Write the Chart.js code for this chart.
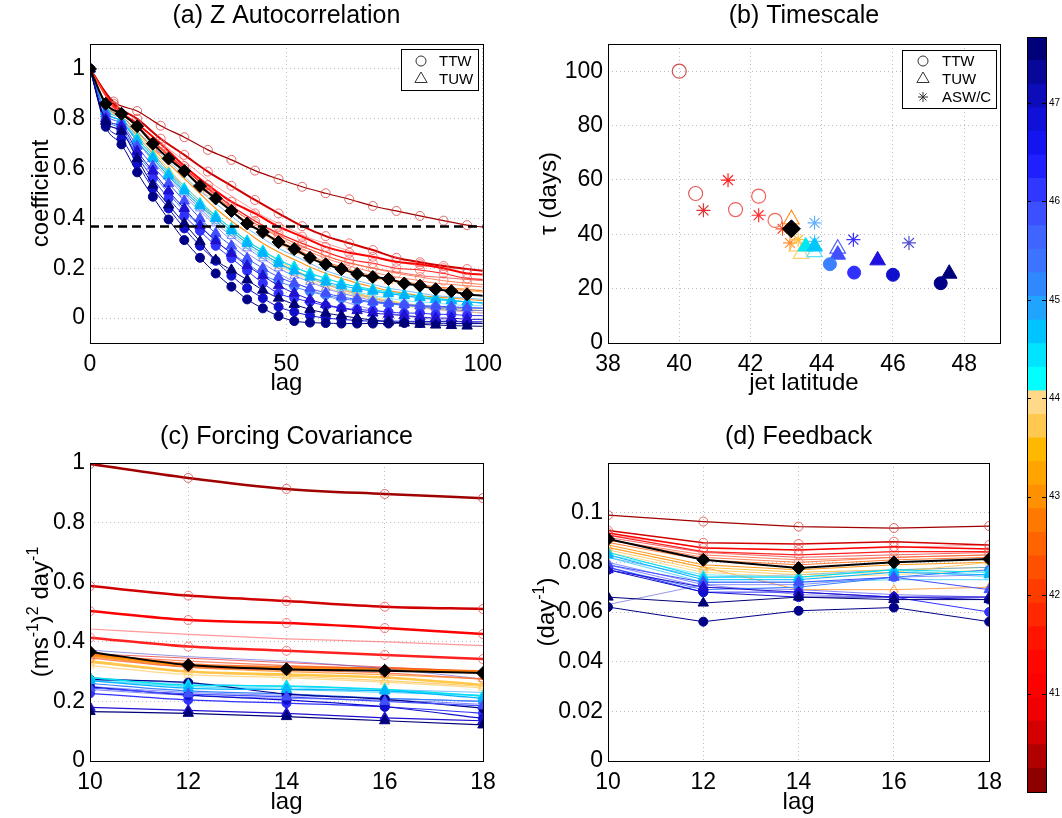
<!DOCTYPE html>
<html>
<head>
<meta charset="utf-8">
<script src="https://cdn.jsdelivr.net/npm/chart.js@4.4.1/dist/chart.umd.min.js"></script>
<style>
  body { margin: 0; background: #fff; width: 1062px; height: 818px; position: relative; overflow: hidden; }
  .panel { position: absolute; }
</style>
</head>
<body>
<div class="panel" style="left:0;top:0"><canvas id="chartA" width="510" height="410"></canvas></div>
<div class="panel" style="left:520px;top:0"><canvas id="chartB" width="490" height="410"></canvas></div>
<div class="panel" style="left:0;top:420px"><canvas id="chartC" width="510" height="398"></canvas></div>
<div class="panel" style="left:520px;top:420px"><canvas id="chartD" width="490" height="398"></canvas></div>
<div class="panel" style="left:1010px;top:0"><canvas id="chartBar" width="52" height="818"></canvas></div>
<script>
// ---- datos ----
const lagA4 = [0, 4, 8, 12, 16, 20, 24, 28, 32, 36, 40, 44, 48, 52, 56, 60, 64, 68, 72, 76, 80, 84, 88, 92, 96, 100];
const lagA6 = [0, 6, 12, 18, 24, 30, 36, 42, 48, 54, 60, 66, 72, 78, 84, 90, 96, 100];
const lagCD = [10, 12, 14, 16, 18];

const seriesNames = ['a1', 'a2', 'a3', 'a4', 'a5', 'a6', 'a7', 'a8', 'a9', 'a10',
  'u1', 'u2', 'u3', 'u4', 'u5', 'T1', 'T2', 'T3', 'T4', 'T5',
  'c1', 'c2', 'c3', 'c4', 'f1', 'f2', 'f3', 'f4', 'f5', 'BD'];

// (a) autocorrelación (T* en lagA6, resto en lagA4)
const acfData = [
  [1, .86, .82, .77, .71, .66, .60, .55, .50, .45, .41, .37, .335, .30, .275, .25, .23, .215, .20, .19, .18, .17, .165, .16, .155, .15],
  [1, .87, .83, .78, .73, .68, .63, .58, .53, .49, .45, .41, .38, .35, .32, .30, .28, .26, .245, .23, .22, .21, .205, .20, .195, .19],
  [1, .86, .82, .77, .71, .655, .60, .545, .49, .44, .40, .36, .325, .29, .265, .24, .22, .20, .185, .17, .16, .15, .14, .135, .13, .125],
  [1, .86, .82, .77, .71, .65, .59, .535, .48, .43, .385, .345, .31, .28, .25, .225, .205, .185, .17, .155, .145, .135, .125, .12, .115, .11],
  [1, .85, .81, .75, .68, .62, .56, .50, .44, .39, .345, .30, .265, .235, .205, .18, .16, .14, .125, .11, .10, .09, .085, .08, .075, .07],
  [1, .85, .80, .74, .67, .60, .53, .47, .41, .36, .31, .27, .23, .195, .165, .14, .12, .10, .085, .07, .06, .05, .045, .04, .035, .03],
  [1, .85, .81, .75, .69, .63, .57, .51, .46, .41, .36, .32, .28, .25, .22, .19, .17, .15, .135, .12, .11, .10, .09, .085, .08, .075],
  [1, .84, .80, .73, .66, .59, .53, .47, .41, .36, .31, .27, .235, .205, .18, .16, .14, .125, .11, .10, .09, .08, .075, .07, .065, .06],
  [1, .84, .80, .73, .66, .59, .52, .46, .40, .35, .30, .26, .22, .19, .16, .135, .115, .095, .08, .065, .055, .045, .035, .03, .025, .02],
  [1, .83, .79, .71, .63, .56, .49, .43, .37, .31, .26, .22, .18, .145, .115, .09, .07, .05, .035, .02, .01, 0, -.005, -.01, -.015, -.02],
  [1, .86, .82, .77, .71, .65, .59, .535, .48, .43, .38, .34, .30, .27, .24, .215, .195, .175, .16, .15, .14, .13, .12, .115, .11, .105],
  [1, .85, .80, .73, .66, .59, .52, .46, .40, .35, .30, .26, .22, .19, .16, .135, .115, .095, .08, .065, .055, .045, .04, .035, .03, .03],
  [1, .84, .80, .72, .65, .58, .51, .45, .39, .34, .29, .25, .21, .18, .15, .125, .105, .09, .075, .06, .05, .04, .035, .03, .025, .02],
  [1, .84, .80, .72, .65, .58, .51, .45, .39, .34, .29, .25, .215, .185, .16, .14, .12, .105, .09, .08, .07, .065, .06, .055, .05, .05],
  [1, .83, .79, .71, .64, .57, .50, .44, .38, .33, .28, .24, .20, .17, .145, .12, .10, .085, .07, .06, .05, .045, .04, .035, .03, .03],
  [1, .869, .831, .772, .726, .675, .635, .592, .558, .527, .501, .477, .45, .43, .41, .391, .373, .365],
  [1, .86, .80, .72, .655, .588, .531, .474, .42, .369, .329, .30, .273, .242, .224, .209, .197, .19],
  [1, .85, .78, .70, .61, .534, .467, .42, .367, .327, .286, .262, .246, .226, .216, .20, .179, .175],
  [1, .85, .77, .68, .60, .52, .45, .39, .34, .30, .265, .235, .22, .20, .193, .179, .159, .155],
  [1, .85, .77, .68, .59, .51, .44, .38, .33, .29, .25, .22, .20, .18, .165, .15, .14, .135],
  [1, .80, .76, .66, .58, .50, .43, .37, .31, .26, .22, .175, .146, .126, .106, .092, .079, .07, .062, .056, .052, .048, .045, .042, .04, .04],
  [1, .79, .75, .65, .56, .48, .41, .35, .29, .24, .19, .14, .099, .08, .065, .05, .04, .035, .03, .025, .02, .02, .015, .015, .01, .01],
  [1, .78, .72, .62, .52, .44, .36, .29, .23, .17, .12, .08, .045, .025, .01, 0, -.005, -.01, -.012, -.012, -.013, -.013, -.014, -.014, -.015, -.015],
  [1, .768, .697, .585, .487, .396, .313, .242, .179, .126, .075, .039, .008, -.012, -.018, -.02, -.022, -.022, -.022, -.022, -.02, -.02, -.02, -.022, -.022, -.022],
  [1, .83, .79, .72, .65, .58, .52, .46, .41, .36, .31, .27, .233, .206, .179, .16, .14, .126, .115, .105, .095, .088, .08, .072, .065, .062],
  [1, .83, .79, .71, .64, .57, .51, .45, .40, .35, .30, .26, .22, .19, .165, .145, .13, .118, .108, .098, .09, .082, .075, .07, .065, .06],
  [1, .82, .78, .69, .61, .54, .47, .40, .34, .29, .24, .20, .165, .14, .12, .10, .085, .075, .065, .06, .055, .05, .048, .045, .042, .04],
  [1, .80, .77, .67, .59, .51, .44, .37, .31, .26, .21, .17, .13, .10, .075, .055, .04, .03, .02, .015, .01, .005, 0, 0, -.005, -.005],
  [1, .79, .75, .64, .534, .454, .38, .307, .233, .193, .153, .112, .08, .055, .035, .02, .01, 0, -.008, -.015, -.02, -.025, -.028, -.03, -.032, -.033],
  [1, .86, .82, .77, .70, .64, .59, .53, .48, .43, .38, .345, .305, .277, .242, .216, .197, .177, .165, .157, .139, .13, .116, .108, .095, .09]
];
const efoldLevel = 0.368;

// (c) covarianza del forzamiento
const covData = [
  [.36, .345, .33, .315, .30], [.443, .425, .41, .40, .387], [.355, .335, .32, .31, .30],
  [.36, .325, .315, .31, .30], [.355, .32, .31, .305, .298], [.335, .30, .29, .28, .255],
  [.28, .26, .25, .24, .23], [.27, .25, .24, .23, .22], [.24, .22, .21, .205, .19],
  [.372, .35, .335, .31, .275],
  [.35, .315, .30, .29, .275], [.33, .30, .285, .27, .25], [.32, .29, .28, .265, .245],
  [.275, .25, .245, .235, .22], [.25, .23, .22, .21, .20],
  [.997, .95, .913, .896, .882], [.587, .555, .537, .518, .51], [.503, .473, .463, .446, .426],
  [.414, .384, .37, .356, .342], [.345, .315, .305, .295, .275],
  [.26, .235, .225, .21, .20], [.227, .205, .194, .182, .16], [.249, .221, .205, .182, .143],
  [.274, .263, .225, .207, .177],
  [.28, .255, .252, .24, .218], [.27, .244, .24, .235, .21], [.245, .225, .215, .20, .185],
  [.18, .17, .16, .145, .135], [.166, .16, .149, .135, .121],
  [.366, .322, .308, .303, .295]
];

// (d) retroalimentación
const fbData = [
  [.09, .084, .082, .083, .084], [.091, .086, .085, .086, .087], [.089, .083, .081, .082, .083],
  [.088, .081, .079, .081, .082], [.087, .079, .077, .079, .08], [.086, .078, .076, .077, .078],
  [.082, .074, .075, .077, .078], [.082, .072, .072, .073, .073], [.079, .07, .069, .067, .066],
  [.063, .071, .067, .066, .066],
  [.086, .078, .069, .069, .07], [.085, .077, .075, .076, .08], [.084, .076, .074, .075, .077],
  [.083, .075, .074, .077, .074], [.08, .071, .071, .074, .075],
  [.099, .0964, .0944, .0938, .0946], [.0928, .0879, .0874, .0883, .087], [.0918, .0858, .085, .0863, .0854],
  [.091, .0843, .083, .0843, .0843], [.089, .082, .08, .082, .083],
  [.078, .069, .07, .074, .077], [.078, .068, .068, .066, .06], [.077, .068, .066, .066, .065],
  [.062, .0561, .0605, .0618, .0561],
  [.084, .074, .074, .077, .076], [.083, .073, .073, .076, .075], [.079, .072, .072, .074, .069],
  [.077, .07, .068, .066, .066], [.066, .0636, .066, .065, .065],
  [.0894, .081, .0777, .08, .0813]
];

// (b) escala temporal vs latitud del chorro
const ttwLat = [40.0, 40.46, 41.58, 42.23, 42.69];
const ttwTau = [100, 55, 49.1, 54, 45.1];
const aswLat = [40.68, 41.37, 42.23, 42.9, 43.11, 43.34, 43.8, 43.8, 44.89, 46.45];
const aswTau = [48.8, 59.9, 47.0, 42.0, 36.8, 38.0, 44.2, 37.4, 38.0, 36.8];
const tuwOpenLat = [43.15, 43.3, 43.42, 43.8, 44.45];
const tuwOpenTau = [45.5, 35.5, 32.8, 33.4, 34.7];
const tuwFillLat = [43.55, 43.8, 44.45, 45.57, 47.58];
const tuwFillTau = [35.5, 35.5, 32.5, 30.4, 25.5];
const dotLat = [44.23, 44.91, 46.0, 47.34];
const dotTau = [29.0, 25.9, 25.1, 22.0];
const refLat = [43.15];
const refTau = [42.0];

// ticks
const acfTicks = [0, 0.2, 0.4, 0.6, 0.8, 1];
const lagTicksA = [0, 50, 100];
const tauTicks = [0, 20, 40, 60, 80, 100];
const latTicks = [38, 40, 42, 44, 46, 48];
const covTicks = [0, 0.2, 0.4, 0.6, 0.8, 1];
const fbTicks = [0, 0.02, 0.04, 0.06, 0.08, 0.1];
const lagTicksCD = [10, 12, 14, 16, 18];
const cbarTicks = [41, 42, 43, 44, 45, 46, 47];
const cbarMin = 40.0, cbarMax = 47.67;

// ---- estilos ----
const cbarColors = ['#8c0000', '#b00000', '#d40000', '#f00000', '#ff0000', '#ff0600', '#ff1400', '#ff2800',
  '#ff3c00', '#ff5000', '#ff6400', '#ff7800', '#ff9000', '#ffa400', '#ffb800', '#ffc850', '#ffd888',
  '#00ffff', '#00e4ff', '#00c4ff', '#20a4ff', '#3088ff', '#3c74ff', '#4064ff', '#3c50ff', '#3038ff',
  '#2020ff', '#1414f0', '#1010d8', '#0c0cb8', '#080898', '#000078'];

const seriesStyle = {
  a1: { color: 'rgba(230,0,0,0.6)', lw: [1, 1, 1] },
  a2: { color: 'rgba(255,70,70,0.55)', lw: [1, 1.2, 1] },
  a3: { color: 'rgba(255,50,0,0.6)', lw: [1, 1.2, 1] },
  a4: { color: 'rgba(255,90,0,0.8)', lw: [1.2, 2.5, 1] },
  a5: { color: 'rgba(255,140,0,0.9)', lw: [1.2, 2.5, 1] },
  a6: { color: 'rgba(255,190,40,0.85)', lw: [1, 2.5, 1] },
  a7: { color: 'rgba(60,160,255,0.7)', lw: [1, 1, 1] },
  a8: { color: 'rgba(40,200,255,0.75)', lw: [1, 1, 1] },
  a9: { color: 'rgba(50,50,255,0.6)', lw: [1, 1, 1] },
  a10: { color: 'rgba(80,80,210,0.6)', lw: [1, 1, 1] },
  u1: { color: 'rgba(255,144,32,0.8)', marker: 'triangle', r: 5, lw: [1, 1.2, 1] },
  u2: { color: 'rgba(255,192,80,0.8)', marker: 'triangle', r: 5, lw: [1, 1.2, 1] },
  u3: { color: 'rgba(255,208,112,0.8)', marker: 'triangle', r: 5, lw: [1, 1.2, 1] },
  u4: { color: 'rgba(96,224,255,0.8)', marker: 'triangle', r: 5, lw: [1, 1.2, 1] },
  u5: { color: 'rgba(80,96,255,0.7)', marker: 'triangle', r: 5, lw: [1, 1, 1] },
  T1: { color: '#a00000', mcolor: 'rgba(215,60,60,0.75)', marker: 'circle', r: 4.5, lw: [1.2, 2.5, 1.2] },
  T2: { color: '#d00000', mcolor: 'rgba(235,70,70,0.75)', marker: 'circle', r: 4.5, lw: [2, 2.5, 1.5] },
  T3: { color: '#ff0000', mcolor: 'rgba(240,80,80,0.75)', marker: 'circle', r: 4.5, lw: [2, 2.5, 1.5] },
  T4: { color: '#ff2020', mcolor: 'rgba(240,90,90,0.75)', marker: 'circle', r: 4.5, lw: [1.2, 2.5, 1.2] },
  T5: { color: 'rgba(255,100,50,0.8)', mcolor: 'rgba(245,120,90,0.75)', marker: 'circle', r: 4.5, lw: [1, 1.2, 1] },
  c1: { color: '#3c80ff', marker: 'circle', fill: true, r: 4.5, lw: [1, 1.2, 1] },
  c2: { color: '#3030ff', marker: 'circle', fill: true, r: 4.5, lw: [1, 1.2, 1] },
  c3: { color: '#1010cc', marker: 'circle', fill: true, r: 4.5, lw: [1, 1.2, 1] },
  c4: { color: '#000088', marker: 'circle', fill: true, r: 4.5, lw: [1, 1.2, 1] },
  f1: { color: '#00e0f0', marker: 'triangle', fill: true, r: 6, lw: [1, 1.5, 1] },
  f2: { color: '#00b4ff', marker: 'triangle', fill: true, r: 6, lw: [1, 1.2, 1] },
  f3: { color: '#4050ff', marker: 'triangle', fill: true, r: 6, lw: [1, 1.2, 1] },
  f4: { color: '#2010d0', marker: 'triangle', fill: true, r: 6, lw: [1, 1.2, 1] },
  f5: { color: '#000078', marker: 'triangle', fill: true, r: 6, lw: [1, 1.2, 1] },
  BD: { color: '#000000', marker: 'rectRot', fill: true, r: 6.5, lw: [2, 2, 2] }
};

const FONT = '"Liberation Sans", Arial, Helvetica, sans-serif';
Chart.defaults.font.family = FONT;
Chart.defaults.font.size = 23;
Chart.defaults.color = '#000';

// ---- plugin: marco, textos y leyenda ----
function drawMarker(ctx, kind, x, y, r, color) {
  ctx.save();
  ctx.strokeStyle = color; ctx.lineWidth = 1;
  ctx.beginPath();
  if (kind === 'circle') ctx.arc(x, y, r, 0, Math.PI * 2);
  else if (kind === 'triangle') {
    ctx.moveTo(x, y - r); ctx.lineTo(x + r * 0.87, y + r * 0.5); ctx.lineTo(x - r * 0.87, y + r * 0.5); ctx.closePath();
  } else if (kind === 'star') {
    for (let k = 0; k < 4; k++) {
      const a = k * Math.PI / 4;
      ctx.moveTo(x - Math.cos(a) * r, y - Math.sin(a) * r);
      ctx.lineTo(x + Math.cos(a) * r, y + Math.sin(a) * r);
    }
  }
  ctx.stroke();
  ctx.restore();
}

function drawRich(ctx, segs, size) {
  let total = 0;
  segs.forEach(s => {
    ctx.font = (s.sup ? Math.round(size * 0.68) : size) + 'px ' + FONT;
    s.w = ctx.measureText(s.t).width;
    total += s.w;
  });
  let x = -total / 2;
  ctx.textAlign = 'left';
  ctx.textBaseline = 'alphabetic';
  segs.forEach(s => {
    ctx.font = (s.sup ? Math.round(size * 0.68) : size) + 'px ' + FONT;
    ctx.fillText(s.t, x, s.sup ? size * 0.35 - size * 0.45 : size * 0.35);
    x += s.w;
  });
}

const panelPlugin = {
  id: 'panel',
  afterDraw(chart, args, o) {
    const { ctx, chartArea: a } = chart;
    const cx = (a.left + a.right) / 2;
    ctx.save();
    ctx.strokeStyle = '#000';
    ctx.lineWidth = 1;
    ctx.strokeRect(Math.round(a.left) + 0.5, Math.round(a.top) + 0.5, Math.round(a.right - a.left), Math.round(a.bottom - a.top));
    ctx.fillStyle = '#000';
    ctx.textAlign = 'center';
    ctx.textBaseline = 'middle';
    ctx.font = '25px ' + FONT;
    ctx.fillText(o.title, cx, o.titleY);
    ctx.font = '24px ' + FONT;
    ctx.fillText(o.xLabel, cx, o.xLabelY);
    ctx.save();
    ctx.translate(o.yLabelX, (a.top + a.bottom) / 2);
    ctx.rotate(-Math.PI / 2);
    drawRich(ctx, o.yLabel, 24);
    ctx.restore();
    if (o.legend) {
      const L = o.legend;
      ctx.fillStyle = '#fff';
      ctx.fillRect(L.x, L.y, L.w, L.h);
      ctx.strokeRect(L.x + 0.5, L.y + 0.5, L.w, L.h);
      ctx.fillStyle = '#000';
      ctx.font = '15px ' + FONT;
      ctx.textAlign = 'left';
      L.items.forEach(it => {
        drawMarker(ctx, it.marker, L.mx, it.y, it.marker === 'triangle' ? 7 : 5, '#333');
        ctx.fillText(it.label, L.tx, it.y + 1);
      });
    }
    ctx.restore();
  }
};

function axis(min, max, ticks, fmt, fit, pad) {
  return {
    type: 'linear', min, max,
    afterBuildTicks: s => { s.ticks = ticks.map(v => ({ value: v })); },
    afterFit: fit,
    grid: { color: '#bcbcbc', lineWidth: 1, drawTicks: false },
    border: { display: false, dash: [1, 3] },
    ticks: { padding: pad, autoSkip: false, maxRotation: 0, callback: fmt }
  };
}

function buildLines(values, lagsOf, panel) {
  const sets = seriesNames.map((name, i) => {
    const st = seriesStyle[name];
    const lags = lagsOf(name);
    const mc = st.mcolor || st.color;
    return {
      data: values[i].map((v, k) => ({ x: lags[k], y: v })),
      borderColor: st.color,
      borderWidth: st.lw[panel],
      pointStyle: st.marker || 'circle',
      pointRadius: st.marker ? (c => (c.raw && c.raw.x === 100 ? 0 : st.r)) : 0,
      pointBackgroundColor: st.fill ? mc : 'rgba(0,0,0,0)',
      pointBorderColor: mc,
      pointBorderWidth: 1,
      cubicInterpolationMode: panel === 2 ? 'default' : 'monotone',
      tension: 0,
      fill: false
    };
  });
  return sets;
}

const baseOpts = (padding, scales, panel) => ({
  responsive: false,
  animation: false,
  layout: { padding },
  scales,
  plugins: { legend: { display: false }, tooltip: { enabled: false }, panel }
});

const dec1 = v => (v === 0 || v === 1 ? String(v) : v.toFixed(1));
const dec2 = v => (v === 0 ? '0' : v === 0.1 ? '0.1' : v.toFixed(2));

// ---- (a) ----
const setsA = buildLines(acfData, n => (n[0] === 'T' ? lagA6 : lagA4), 0);
setsA.push({
  data: [{ x: 0, y: efoldLevel }, { x: 100, y: efoldLevel }],
  borderColor: '#000', borderWidth: 2.5, borderDash: [9, 5], pointRadius: 0
});
new Chart(document.getElementById('chartA'), {
  type: 'line',
  data: { datasets: setsA.reverse() },
  options: baseOpts({ top: 44, right: 27, left: 0, bottom: 0 }, {
    x: axis(0, 100, lagTicksA, v => v, s => { s.height = 67; }, 8),
    y: axis(-0.1, 1.1, acfTicks, dec1, s => { s.width = 90; }, 5)
  }, {
    title: '(a) Z Autocorrelation', titleY: 16, xLabel: 'lag', xLabelY: 383,
    yLabel: [{ t: 'coefficient' }], yLabelX: 40,
    legend: { x: 401, y: 49, w: 77, h: 41, mx: 421, tx: 439,
      items: [{ marker: 'circle', label: 'TTW', y: 61 }, { marker: 'triangle', label: 'TUW', y: 79 }] }
  }),
  plugins: [panelPlugin]
});

// ---- (b) ----
const pts = (lat, tau) => lat.map((v, i) => ({ x: v, y: tau[i] }));
const setsB = [
  { data: pts(aswLat, aswTau), pointStyle: 'star', pointRadius: 7, pointBorderWidth: 1.2,
    pointBorderColor: ['#e03030', '#ff2020', '#ff3030', '#ff5020', '#ff9030', '#ffc040', '#60b0ff', '#60c8ff', '#3a30ff', '#5050d0'] },
  { data: pts(ttwLat, ttwTau), pointStyle: 'circle', pointRadius: 7, pointBorderWidth: 1.2, pointBackgroundColor: 'rgba(0,0,0,0)',
    pointBorderColor: ['#cc5050', '#e05a5a', '#f06060', '#f06060', '#f07058'] },
  { data: pts(tuwOpenLat, tuwOpenTau), pointStyle: 'triangle', pointRadius: 9, pointBorderWidth: 1.2, pointBackgroundColor: 'rgba(0,0,0,0)',
    pointBorderColor: ['#ff9020', '#ffc050', '#ffd070', '#60e0ff', '#5060ff'] },
  { data: pts(tuwFillLat, tuwFillTau), pointStyle: 'triangle', pointRadius: 9, pointBorderWidth: 1,
    pointBackgroundColor: ['#00e8f0', '#00c8ff', '#4050ff', '#2010e0', '#000078'],
    pointBorderColor: ['#00e8f0', '#00c8ff', '#4050ff', '#2010e0', '#000078'] },
  { data: pts(dotLat, dotTau), pointStyle: 'circle', pointRadius: 6.5, pointBorderWidth: 1,
    pointBackgroundColor: ['#3c80ff', '#3030ff', '#1010cc', '#000088'],
    pointBorderColor: ['#3c80ff', '#3030ff', '#1010cc', '#000088'] },
  { data: pts(refLat, refTau), pointStyle: 'rectRot', pointRadius: 9, pointBackgroundColor: '#000', pointBorderColor: '#000' }
];
new Chart(document.getElementById('chartB'), {
  type: 'scatter',
  data: { datasets: setsB.reverse() },
  options: baseOpts({ top: 44, right: 9, left: 0, bottom: 0 }, {
    x: axis(38, 49, latTicks, v => v, s => { s.height = 67; }, 8),
    y: axis(0, 110, tauTicks, v => v, s => { s.width = 88; }, 5)
  }, {
    title: '(b) Timescale', titleY: 16, xLabel: 'jet latitude', xLabelY: 383,
    yLabel: [{ t: 'τ (days)' }], yLabelX: 28,
    legend: { x: 382, y: 50, w: 94, h: 58, mx: 403, tx: 422,
      items: [{ marker: 'circle', label: 'TTW', y: 61 }, { marker: 'triangle', label: 'TUW', y: 79 },
        { marker: 'star', label: 'ASW/C', y: 97 }] }
  }),
  plugins: [panelPlugin]
});

// ---- (c) ----
new Chart(document.getElementById('chartC'), {
  type: 'line',
  data: { datasets: buildLines(covData, () => lagCD, 1).reverse() },
  options: baseOpts({ top: 43, right: 27, left: 0, bottom: 0 }, {
    x: axis(10, 18, lagTicksCD, v => v, s => { s.height = 57; }, 8),
    y: axis(0, 1, covTicks, dec1, s => { s.width = 90; }, 5)
  }, {
    title: '(c) Forcing Covariance', titleY: 17, xLabel: 'lag', xLabelY: 382,
    yLabel: [{ t: '(ms' }, { t: '-1', sup: true }, { t: ')' }, { t: '2', sup: true }, { t: ' day' }, { t: '-1', sup: true }],
    yLabelX: 40
  }),
  plugins: [panelPlugin]
});

// ---- (d) ----
new Chart(document.getElementById('chartD'), {
  type: 'line',
  data: { datasets: buildLines(fbData, () => lagCD, 2).reverse() },
  options: baseOpts({ top: 43, right: 9, left: 0, bottom: 0 }, {
    x: axis(10, 18, lagTicksCD, v => v, s => { s.height = 57; }, 8),
    y: axis(0, 0.12, fbTicks, dec2, s => { s.width = 88; }, 5)
  }, {
    title: '(d) Feedback', titleY: 17, xLabel: 'lag', xLabelY: 382,
    yLabel: [{ t: '(day' }, { t: '-1', sup: true }, { t: ')' }], yLabelX: 26
  }),
  plugins: [panelPlugin]
});

// ---- barra de color ----
const cbarStep = (cbarMax - cbarMin) / cbarColors.length;
const cbarFrame = {
  id: 'cbarFrame',
  afterDraw(chart) {
    const { ctx, chartArea: a, scales: { y } } = chart;
    ctx.save();
    ctx.strokeStyle = '#000';
    ctx.lineWidth = 1;
    ctx.strokeRect(Math.round(a.left) + 0.5, Math.round(a.top) + 0.5, Math.round(a.right - a.left), Math.round(a.bottom - a.top));
    cbarTicks.forEach(t => {
      const py = Math.round(y.getPixelForValue(t)) + 0.5;
      ctx.beginPath();
      ctx.moveTo(a.left, py); ctx.lineTo(a.left + 4, py);
      ctx.moveTo(a.right - 4, py); ctx.lineTo(a.right, py);
      ctx.stroke();
    });
    ctx.restore();
  }
};
new Chart(document.getElementById('chartBar'), {
  type: 'bar',
  data: {
    labels: [''],
    datasets: cbarColors.map((c, i) => ({
      data: [[cbarMin + i * cbarStep, cbarMin + (i + 1) * cbarStep + 0.002]],
      backgroundColor: c, borderWidth: 0, barPercentage: 1, categoryPercentage: 1, grouped: false
    }))
  },
  options: {
    responsive: false,
    animation: false,
    layout: { padding: { top: 37, left: 17, bottom: 26, right: 0 } },
    scales: {
      x: { display: false },
      y: {
        position: 'right', min: cbarMin, max: cbarMax,
        afterBuildTicks: s => { s.ticks = cbarTicks.map(v => ({ value: v })); },
        afterFit: s => { s.width = 16; },
        grid: { display: false, drawTicks: false },
        border: { display: false },
        ticks: { font: { size: 10 }, padding: 3, autoSkip: false }
      }
    },
    plugins: { legend: { display: false }, tooltip: { enabled: false } }
  },
  plugins: [cbarFrame]
});
</script>
</body>
</html>
